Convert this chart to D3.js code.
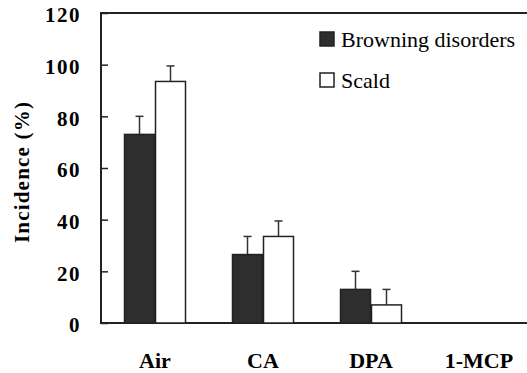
<!DOCTYPE html>
<html>
<head>
<meta charset="utf-8">
<script src="https://cdn.jsdelivr.net/npm/d3@7"></script>
</head>
<body style="margin:0;background:#fff">
<script>
var treatments = ["Air", "CA", "DPA", "1-MCP"]
var seriesNames = ["Browning disorders", "Scald"]
var browning = [73, 26.5, 13, 0]
var browningErr = [7, 7, 7, 0]
var scald = [93.5, 33.5, 7, 0]
var scaldErr = [6, 6, 6, 0]
var yTicks = [0, 20, 40, 60, 80, 100, 120]

var serif = "'Liberation Serif', 'Times New Roman', 'DejaVu Serif', serif"

var svg = d3.select("body").append("svg")
	.attr("width", 527)
	.attr("height", 373)
	.style("font-family", serif)

var plotLeft = 101, plotRight = 533, plotTop = 13, plotBottom = 323

var x = d3.scaleBand().domain(treatments).range([plotLeft, plotRight])
var y = d3.scaleLinear().domain([0, 120]).range([plotBottom, plotTop])
var barW = 30, gap = 1

var rows = treatments.map(function(t, i) {
	return {t: t, vals: [
		{s: 0, v: browning[i], e: browningErr[i]},
		{s: 1, v: scald[i], e: scaldErr[i]}
	]}
})

// frame
svg.append("rect")
	.attr("x", plotLeft).attr("y", plotTop)
	.attr("width", plotRight - plotLeft).attr("height", plotBottom - plotTop)
	.attr("fill", "none").style("stroke", "#222").style("stroke-width", 2)

// y axis, ticks inward
var yAxis = d3.axisRight(y).tickValues(yTicks).tickSize(7).tickFormat("")
var ya = svg.append("g").attr("transform", "translate(" + plotLeft + ",0)").call(yAxis)
ya.select(".domain").remove()
ya.selectAll("line").style("stroke", "#222").style("stroke-width", 1.5)

svg.selectAll(".ylab").data(yTicks).enter().append("text")
	.attr("x", 81).attr("y", function(d) {return y(d) + 2})
	.attr("dy", "0.35em")
	.attr("text-anchor", "end")
	.style("font-size", "21px").style("font-weight", "bold")
	.style("letter-spacing", "1.5px")
	.text(function(d) {return d})

svg.append("text")
	.attr("transform", "translate(29,172) rotate(-90)")
	.attr("text-anchor", "middle")
	.style("font-size", "21px").style("font-weight", "bold")
	.style("letter-spacing", "1.2px")
	.text("Incidence (%)")

// bars
var groups = svg.selectAll(".grp").data(rows).enter().append("g")
	.attr("transform", function(d) {return "translate(" + (x(d.t) + x.bandwidth() / 2) + ",0)"})

var bars = groups.selectAll(".bar").data(function(d) {return d.vals.filter(function(v) {return v.v > 0})})
	.enter().append("g")

function barCenter(d) {return d.s == 0 ? -barW / 2 - gap / 2 : barW / 2 + gap / 2}

bars.append("line")
	.attr("x1", barCenter)
	.attr("x2", barCenter)
	.attr("y1", function(d) {return y(d.v)})
	.attr("y2", function(d) {return y(d.v + d.e)})
	.style("stroke", "#333").style("stroke-width", 1.5)

bars.append("line")
	.attr("x1", function(d) {return barCenter(d) - 4})
	.attr("x2", function(d) {return barCenter(d) + 4})
	.attr("y1", function(d) {return y(d.v + d.e)})
	.attr("y2", function(d) {return y(d.v + d.e)})
	.style("stroke", "#333").style("stroke-width", 1.5)

bars.append("rect")
	.attr("x", function(d) {return d.s == 0 ? -barW - gap / 2 : gap / 2})
	.attr("y", function(d) {return y(d.v)})
	.attr("width", barW)
	.attr("height", function(d) {return plotBottom - y(d.v)})
	.attr("fill", function(d) {return d.s == 0 ? "#2e2e2e" : "#fff"})
	.style("stroke", "#222").style("stroke-width", 1.5)

// x labels
svg.selectAll(".xlab").data(treatments).enter().append("text")
	.attr("x", function(d) {return x(d) + x.bandwidth() / 2})
	.attr("y", 368)
	.attr("text-anchor", "middle")
	.style("font-size", "22px").style("font-weight", "bold")
	.text(function(d) {return d})

// legend
var legend = svg.selectAll(".leg").data(seriesNames).enter().append("g")
	.attr("transform", function(d, i) {return "translate(320," + (32 + i * 41) + ")"})

legend.append("rect")
	.attr("width", 14).attr("height", 14)
	.attr("fill", function(d, i) {return i == 0 ? "#2e2e2e" : "#fff"})
	.style("stroke", "#222").style("stroke-width", 1.5)

legend.append("text")
	.attr("x", 21).attr("y", 15)
	.style("font-size", "22px")
	.text(function(d) {return d})
</script>
</body>
</html>
